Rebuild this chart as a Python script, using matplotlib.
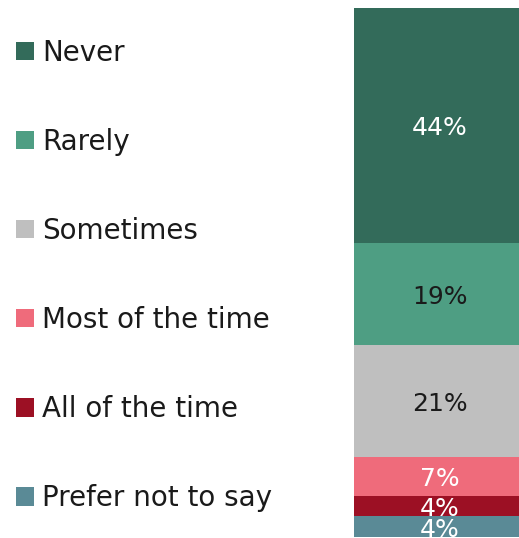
import matplotlib
matplotlib.use("Agg")
import matplotlib.pyplot as plt
from matplotlib.patches import Patch

categories = ["Never", "Rarely", "Sometimes", "Most of the time", "All of the time", "Prefer not to say"]
values = [44.4, 19.3, 21.2, 7.4, 3.8, 4.0]
colors = ["#336B5A", "#4E9E83", "#BFBFBF", "#EF6B7B", "#9C1024", "#5A8A96"]
label_colors = ["white", "#1a1a1a", "#1a1a1a", "white", "white", "white"]

plt.rcParams['font.family'] = ['DejaVu Sans']

W, H = 519, 538
fig = plt.figure(figsize=(W / 100, H / 100), dpi=100)
# bar area: left 354 px, top 8 px, bottom 537 px; bar centered at ~440 px
bar_left, bar_right = 354, 526
ax = fig.add_axes([bar_left / W, (H - 537) / H, (bar_right - bar_left) / W, (537 - 8) / H])
ax.set_xlim(-0.5, 0.5)
ax.set_ylim(0, sum(values))
ax.axis("off")

# stack from bottom: last category at bottom
bottom = 0
order = list(range(len(categories)))[::-1]
for i in order:
    ax.bar(0, values[i], bottom=bottom, width=1.0, color=colors[i], linewidth=0)
    ax.text(0, bottom + values[i] / 2 - 0.6, f"{values[i]:.0f}%", ha="center", va="center",
            fontsize=18, color=label_colors[i])
    bottom += values[i]

handles = [Patch(facecolor=c, edgecolor="none") for c in colors]
leg = fig.legend(handles, categories, loc="upper left", bbox_to_anchor=(5 / W, 1 - 27.5 / H),
                 frameon=False, fontsize=20, handlelength=0.65, handleheight=0.65,
                 handletextpad=0.3, labelspacing=2.2, borderaxespad=0, borderpad=0.4)
for t in leg.get_texts():
    t.set_color("#1a1a1a")

fig.savefig("out.png", dpi=100)
